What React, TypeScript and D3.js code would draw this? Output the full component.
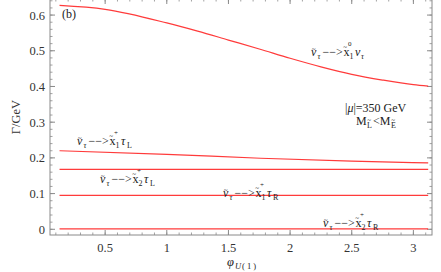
import React from 'react';
import * as d3 from 'd3';

// decay widths (phi, Gamma)
const phiChi10 = [0.13, 0.5, 1.0, 1.25, 1.5, 1.75, 2.0, 2.25, 2.5, 2.75, 3.0, 3.12];
const gamChi10 = [0.627, 0.616, 0.578, 0.555, 0.530, 0.505, 0.479, 0.455, 0.434, 0.418, 0.405, 0.401];

const phiChi1L = [0.13, 1.0, 1.76, 2.5, 3.12];
const gamChi1L = [0.220, 0.210, 0.199, 0.191, 0.186];

const phiFlat = [0.13, 3.12];
const gamChi2L = [0.168, 0.168];
const gamChi1R = [0.095, 0.095];
const gamChi2R = [0.001, 0.001];

const xTicks = [0.5, 1, 1.5, 2, 2.5, 3];
const yTicks = [0, 0.1, 0.2, 0.3, 0.4, 0.5, 0.6];

const W = 441;
const H = 272;
const FONT = '"Liberation Serif", "Times New Roman", serif';
const RED = '#ff3b3b';
const FRAME = '#8a8a8a';
const INK = '#222';

const x = d3.scaleLinear().domain([0.0527, 3.151]).range([50, 432]);
const y = d3.scaleLinear().domain([-0.016, 0.645]).range([235, -1]);

const line = d3.line<[number, number]>()
  .x(d => x(d[0]))
  .y(d => y(d[1]))
  .curve(d3.curveMonotoneX);

const zip = (a: number[], b: number[]) => a.map((v, i) => [v, b[i]] as [number, number]);

const series = [
  zip(phiChi10, gamChi10),
  zip(phiChi1L, gamChi1L),
  zip(phiFlat, gamChi2L),
  zip(phiFlat, gamChi1R),
  zip(phiFlat, gamChi2R),
];

// small text piece
const T = ({ dx, dy = 0, size = 12, italic = false, children }) => (
  <text x={dx} y={dy} fontFamily={FONT} fontSize={size} fontStyle={italic ? 'italic' : 'normal'} fill={INK}>
    {children}
  </text>
);

// label: nu~_tau --> x~_i^s  fin_sub
const Label = ({ px, py, idx, sup, fin, finSub }) => (
  <g transform={`translate(${px},${py})`}>
    <T dx={0} italic>ν</T>
    <T dx={0.8} dy={-5} size={7}>~</T>
    <T dx={6.5} dy={3} size={8} italic>τ</T>
    <T dx={11.5} size={12}>{'−−>'}</T>
    <T dx={32.5} size={12}>x</T>
    <T dx={32.3} dy={-7.5} size={7}>~</T>
    <T dx={37} dy={-10} size={7}>{sup}</T>
    <T dx={38.5} dy={3} size={8}>{idx}</T>
    <T dx={44} italic>{fin}</T>
    <T dx={50} dy={3} size={8} italic={finSub === 'τ'}>{finSub}</T>
  </g>
);

export default function App() {
  const yMinor = d3.range(0, 0.641, 0.02);
  const xMinor = d3.range(0.1, 3.151, 0.1);
  const left = 50, right = 432, top = -1, bottom = 235;

  return (
    <svg width={W} height={H} style={{ position: 'absolute', left: 0, top: 0, background: '#fff' }}>
      {/* frame */}
      <rect x={left} y={top} width={right - left} height={bottom - top} fill="none" stroke={FRAME} strokeWidth={1} />

      {/* y ticks, left and right */}
      {yMinor.map((v, i) => (
        <g key={'ym' + i} stroke={FRAME} strokeWidth={0.8}>
          <line x1={left} x2={left + 2.5} y1={y(v)} y2={y(v)} />
          <line x1={right} x2={right - 2.5} y1={y(v)} y2={y(v)} />
        </g>
      ))}
      {yTicks.map(v => (
        <g key={'y' + v}>
          <line x1={left} x2={left + 5} y1={y(v)} y2={y(v)} stroke={FRAME} />
          <line x1={right} x2={right - 5} y1={y(v)} y2={y(v)} stroke={FRAME} />
          <text x={45} y={y(v) + 4.5} textAnchor="end" fontFamily={FONT} fontSize={12.5} fill="#333">
            {v === 0 ? '0' : String(v)}
          </text>
        </g>
      ))}

      {/* x ticks, bottom and top */}
      {xMinor.map((v, i) => (
        <g key={'xm' + i} stroke={FRAME} strokeWidth={0.8}>
          <line x1={x(v)} x2={x(v)} y1={bottom} y2={bottom - 2.5} />
          <line x1={x(v)} x2={x(v)} y1={top} y2={top + 2.5} />
        </g>
      ))}
      {xTicks.map(v => (
        <g key={'x' + v}>
          <line x1={x(v)} x2={x(v)} y1={bottom} y2={bottom - 5} stroke={FRAME} />
          <line x1={x(v)} x2={x(v)} y1={top} y2={top + 5} stroke={FRAME} />
          <text x={x(v)} y={252} textAnchor="middle" fontFamily={FONT} fontSize={12.5} fill="#333">
            {String(v)}
          </text>
        </g>
      ))}

      {/* curves */}
      {series.map((s, i) => (
        <path key={'s' + i} d={line(s) || ''} fill="none" stroke={RED} strokeWidth={1.2} />
      ))}

      {/* axis titles */}
      <text transform="translate(20,117) rotate(-90)" textAnchor="middle" fontFamily={FONT} fontSize={12.5} fill="#333">
        Γ/GeV
      </text>
      <g transform="translate(227,266)">
        <T dx={0} size={12.5} italic>φ</T>
        <T dx={8} dy={3} size={8.5} italic>U</T>
        <T dx={15} dy={3} size={8.5}>( 1 )</T>
      </g>

      <text x={62} y={18} fontFamily={FONT} fontSize={12} fill={INK}>(b)</text>

      <Label px={311} py={56} idx="1" sup="0" fin="ν" finSub="τ" />
      <Label px={77} py={145} idx="1" sup="+" fin="τ" finSub="L" />
      <Label px={100} py={183} idx="2" sup="+" fin="τ" finSub="L" />
      <Label px={223} py={197} idx="1" sup="+" fin="τ" finSub="R" />
      <Label px={323} py={227} idx="2" sup="+" fin="τ" finSub="R" />

      <text x={345} y={112} fontFamily={FONT} fontSize={12} fill={INK}>
        |<tspan fontStyle="italic">μ</tspan>|=350 GeV
      </text>
      <g transform="translate(356,125)">
        <T dx={0}>M</T>
        <T dx={11} dy={3} size={8}>L</T>
        <T dx={11.3} dy={-3} size={7}>~</T>
        <T dx={17}>{'<M'}</T>
        <T dx={35} dy={3} size={8}>E</T>
        <T dx={35.3} dy={-3} size={7}>~</T>
      </g>
    </svg>
  );
}
